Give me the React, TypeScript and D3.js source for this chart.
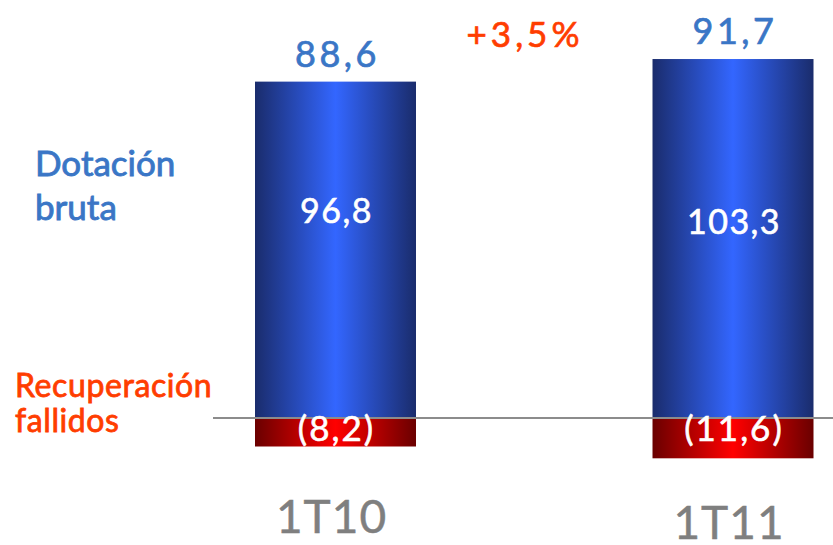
import React from 'react';
import * as d3 from 'd3';

// Dotación bruta vs recuperación de fallidos, 1T10 / 1T11
const periods = ['1T10', '1T11'];
const grossProvision = [96.8, 103.3];
const recoveries = [8.2, 11.6];
const netProvision = [88.6, 91.7];
const grossLabelAt = [56, 53];
const growthLabel = '+3,5%';

const W = 833;
const H = 545;
const BLUE_TEXT = '#3a76c6';
const ORANGE = '#ff3d00';
const GREY = '#7f7f7f';
const FONT = 'Lato, "Open Sans", sans-serif';

const fmt = (v: number) => v.toFixed(1).replace('.', ',');

// Lato regular is a bit light next to the original, so thicken it slightly
const heavy = (c: string, w = 0.7) => ({ fill: c, stroke: c, strokeWidth: w });

export default function App() {
  const x = d3.scaleBand<string>()
    .domain(periods)
    .range([255, 813.5])
    .paddingInner(0.595)
    .paddingOuter(0);

  const y = d3.scaleLinear()
    .domain([-20, 110])
    .range([487.5, 35.75]);

  const bw = x.bandwidth();
  const y0 = y(0);

  return (
    <svg width={W} height={H} style={{ position: 'absolute', left: 0, top: 0, background: '#fff' }}>
      <defs>
        <linearGradient id="blueGrad" x1="0" x2="1" y1="0" y2="0">
          <stop offset="0%" stopColor="#1a2c6c" />
          <stop offset="50%" stopColor="#3366ff" />
          <stop offset="100%" stopColor="#1a2c6c" />
        </linearGradient>
        <linearGradient id="redGrad" x1="0" x2="1" y1="0" y2="0">
          <stop offset="0%" stopColor="#6a0000" />
          <stop offset="50%" stopColor="#ff0000" />
          <stop offset="100%" stopColor="#6a0000" />
        </linearGradient>
      </defs>

      {/* bars */}
      {periods.map((p, i) => {
        const bx = x(p) ?? 0;
        return (
          <g key={p}>
            <rect x={bx} y={y(grossProvision[i])} width={bw} height={y0 - y(grossProvision[i])} fill="url(#blueGrad)" />
            <rect x={bx} y={y0} width={bw} height={y(-recoveries[i]) - y0} fill="url(#redGrad)" />
          </g>
        );
      })}

      {/* baseline */}
      <line x1={213} x2={W} y1={y0} y2={y0} stroke="#8c8c8c" strokeWidth={2} />

      {/* labels */}
      {periods.map((p, i) => {
        const cx = (x(p) ?? 0) + bw / 2;
        return (
          <g key={p + '-l'} fontFamily={FONT} textAnchor="middle">
            <text x={cx + 2} y={y(grossProvision[i]) - 15} fontSize={36} letterSpacing={3.5} {...heavy(BLUE_TEXT)}>
              {fmt(netProvision[i])}
            </text>
            <text x={cx + 1} y={y(grossLabelAt[i])} fontSize={34} letterSpacing={1.5} {...heavy('#fff', 0.6)}>
              {fmt(grossProvision[i])}
            </text>
            <text x={cx + 1} y={y0 + 23} fontSize={35} letterSpacing={2} {...heavy('#fff', 0.6)}>
              {'(' + fmt(recoveries[i]) + ')'}
            </text>
            <text x={cx - 4} y={y(-recoveries[i] / 2) + 101} fontSize={46} letterSpacing={1} {...heavy(GREY, 0.5)}>
              {p}
            </text>
          </g>
        );
      })}

      <text x={525} y={47} textAnchor="middle" fontFamily={FONT} fontSize={35} letterSpacing={4} {...heavy(ORANGE)}>
        {growthLabel}
      </text>

      <g fontFamily={FONT} fontSize={35} {...heavy(BLUE_TEXT, 0.9)}>
        <text x={35} y={176}>Dotación</text>
        <text x={35} y={220}>bruta</text>
      </g>
      <g fontFamily={FONT} fontSize={32} letterSpacing={0.6} {...heavy(ORANGE, 0.8)}>
        <text x={15} y={397}>Recuperación</text>
        <text x={15} y={432}>fallidos</text>
      </g>
    </svg>
  );
}
